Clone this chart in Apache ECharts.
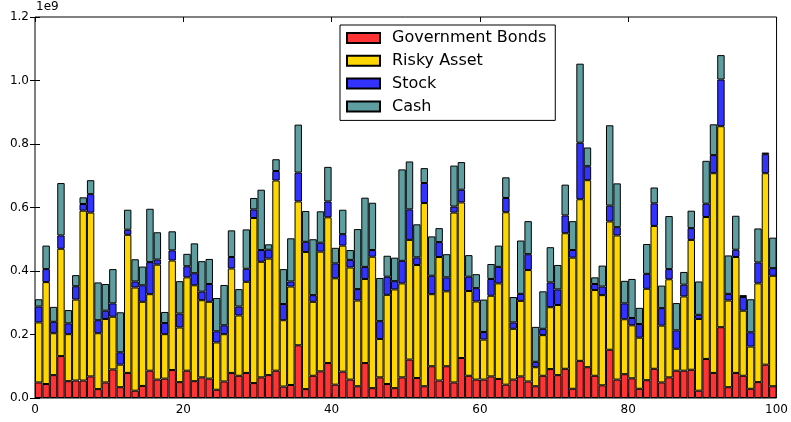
<!DOCTYPE html>
<html>
<head>
<meta charset="utf-8">
<script src="https://cdn.jsdelivr.net/npm/echarts@6/dist/echarts.min.js"></script>
<style>
  html, body { margin: 0; padding: 0; background: #fff; }
  #chart { width: 791px; height: 422px; }
</style>
</head>
<body>
<div id="chart"></div>
<script>
// Portfolio holdings per period, in units of 1e9.
const govBonds = [
  0.049, 0.044, 0.072, 0.132, 0.053, 0.055, 0.055, 0.068, 0.028, 0.049,
  0.090, 0.034, 0.079, 0.023, 0.038, 0.086, 0.058, 0.061, 0.088, 0.050,
  0.086, 0.053, 0.065, 0.061, 0.026, 0.052, 0.079, 0.070, 0.079, 0.047,
  0.065, 0.072, 0.086, 0.036, 0.041, 0.166, 0.028, 0.070, 0.084, 0.110,
  0.042, 0.083, 0.058, 0.037, 0.110, 0.031, 0.065, 0.044, 0.031, 0.065,
  0.121, 0.063, 0.037, 0.100, 0.055, 0.100, 0.049, 0.126, 0.070, 0.058,
  0.058, 0.068, 0.060, 0.042, 0.058, 0.068, 0.052, 0.037, 0.070, 0.091,
  0.072, 0.092, 0.029, 0.117, 0.097, 0.070, 0.040, 0.152, 0.058, 0.075,
  0.062, 0.029, 0.056, 0.092, 0.049, 0.065, 0.086, 0.086, 0.089, 0.023,
  0.123, 0.079, 0.223, 0.034, 0.079, 0.070, 0.029, 0.050, 0.105, 0.037
];
const riskyAsset = [
  0.189, 0.321, 0.132, 0.338, 0.148, 0.255, 0.535, 0.516, 0.176, 0.200,
  0.166, 0.071, 0.435, 0.325, 0.265, 0.241, 0.362, 0.140, 0.345, 0.172,
  0.294, 0.302, 0.243, 0.242, 0.149, 0.149, 0.329, 0.190, 0.287, 0.520,
  0.364, 0.367, 0.599, 0.209, 0.310, 0.453, 0.432, 0.233, 0.377, 0.459,
  0.335, 0.397, 0.353, 0.270, 0.265, 0.414, 0.121, 0.281, 0.311, 0.296,
  0.377, 0.356, 0.577, 0.227, 0.389, 0.236, 0.535, 0.490, 0.267, 0.246,
  0.126, 0.254, 0.301, 0.543, 0.160, 0.238, 0.351, 0.060, 0.128, 0.195,
  0.221, 0.427, 0.413, 0.509, 0.589, 0.270, 0.284, 0.404, 0.454, 0.173,
  0.167, 0.161, 0.288, 0.450, 0.179, 0.309, 0.069, 0.234, 0.409, 0.226,
  0.447, 0.629, 0.633, 0.273, 0.365, 0.205, 0.133, 0.311, 0.603, 0.348
];
const stock = [
  0.050, 0.041, 0.036, 0.042, 0.034, 0.042, 0.021, 0.058, 0.041, 0.026,
  0.042, 0.039, 0.016, 0.019, 0.052, 0.101, 0.016, 0.035, 0.032, 0.044,
  0.035, 0.038, 0.027, 0.056, 0.035, 0.028, 0.036, 0.028, 0.041, 0.027,
  0.037, 0.028, 0.030, 0.051, 0.016, 0.091, 0.032, 0.021, 0.028, 0.050,
  0.047, 0.036, 0.024, 0.036, 0.038, 0.021, 0.056, 0.057, 0.026, 0.071,
  0.096, 0.024, 0.063, 0.058, 0.047, 0.044, 0.019, 0.040, 0.045, 0.042,
  0.024, 0.053, 0.052, 0.045, 0.020, 0.022, 0.050, 0.017, 0.020, 0.078,
  0.049, 0.056, 0.024, 0.178, 0.044, 0.019, 0.027, 0.050, 0.026, 0.050,
  0.023, 0.043, 0.047, 0.071, 0.055, 0.032, 0.058, 0.037, 0.037, 0.013,
  0.042, 0.057, 0.147, 0.021, 0.023, 0.043, 0.045, 0.066, 0.060, 0.024
];
const cash = [
  0.023, 0.074, 0.047, 0.165, 0.042, 0.035, 0.021, 0.044, 0.119, 0.084,
  0.108, 0.126, 0.063, 0.070, 0.059, 0.168, 0.086, 0.035, 0.060, 0.102,
  0.039, 0.094, 0.096, 0.079, 0.105, 0.127, 0.084, 0.055, 0.124, 0.036,
  0.190, 0.017, 0.037, 0.110, 0.136, 0.151, 0.097, 0.176, 0.099, 0.109,
  0.049, 0.077, 0.031, 0.189, 0.218, 0.149, 0.136, 0.066, 0.074, 0.288,
  0.151, 0.104, 0.047, 0.124, 0.044, 0.073, 0.129, 0.087, 0.068, 0.044,
  0.102, 0.047, 0.067, 0.065, 0.080, 0.168, 0.104, 0.110, 0.118, 0.111,
  0.077, 0.097, 0.091, 0.249, 0.059, 0.021, 0.066, 0.253, 0.138, 0.071,
  0.123, 0.051, 0.094, 0.050, 0.071, 0.167, 0.086, 0.040, 0.055, 0.105,
  0.135, 0.097, 0.077, 0.121, 0.107, 0.006, 0.104, 0.107, 0.005, 0.096
];
const periods = govBonds.map((_, i) => String(i));
const xTicks = [0, 20, 40, 60, 80, 100];
const yTicks = [0.0, 0.2, 0.4, 0.6, 0.8, 1.0, 1.2];

const seriesDefs = [
  { name: 'Government Bonds', data: govBonds,   color: '#ff3333' },
  { name: 'Risky Asset',      data: riskyAsset, color: '#ffd700' },
  { name: 'Stock',            data: stock,      color: '#3333ff' },
  { name: 'Cash',             data: cash,       color: '#5f9ea0' }
];

const FONT = 'DejaVu Sans';
const tickLine = { color: '#000', width: 1 };

const chart = echarts.init(document.getElementById('chart'), null, { renderer: 'canvas' });

chart.setOption({
  animation: false,
  backgroundColor: '#fff',
  textStyle: { fontFamily: FONT },
  grid: {
    left: 35, top: 17, width: 742, height: 381,
    show: true, borderColor: '#000', borderWidth: 1, backgroundColor: 'transparent'
  },
  legend: {
    orient: 'vertical',
    left: 340, top: 25,
    padding: [4, 9, 5, 6],
    itemWidth: 33, itemHeight: 10, itemGap: 4.8,
    icon: 'rect',
    borderColor: '#000', borderWidth: 1, borderRadius: 0,
    backgroundColor: '#fff',
    textStyle: { fontFamily: FONT, fontSize: 16, color: '#000', lineHeight: 18, padding: [0, 0, 0, 7] },
    data: seriesDefs.map(s => s.name)
  },
  graphic: [{
    type: 'text', left: 36, top: 1,
    style: { text: '1e9', fontFamily: FONT, fontSize: 12, fill: '#000' }
  }],
  xAxis: [
    {
      type: 'category', data: periods, boundaryGap: true,
      axisLine: { show: false }, axisTick: { show: false }, axisLabel: { show: false }
    },
    {
      type: 'value', position: 'bottom', min: xTicks[0], max: xTicks[xTicks.length - 1], interval: 20,
      axisLine: { show: false }, splitLine: { show: false },
      axisTick: { show: true, inside: true, length: 5, lineStyle: tickLine, customValues: xTicks },
      axisLabel: { fontFamily: FONT, fontSize: 12, color: '#000', margin: 6, customValues: xTicks }
    },
    {
      type: 'value', position: 'top', min: xTicks[0], max: xTicks[xTicks.length - 1], interval: 20,
      axisLine: { show: false }, splitLine: { show: false },
      axisTick: { show: true, inside: true, length: 5, lineStyle: tickLine, customValues: xTicks },
      axisLabel: { show: false }
    }
  ],
  yAxis: [
    {
      type: 'value', min: yTicks[0], max: yTicks[yTicks.length - 1], interval: 0.2,
      axisLine: { show: false }, splitLine: { show: false },
      axisTick: { show: true, inside: true, length: 5, lineStyle: tickLine, customValues: yTicks },
      axisLabel: {
        fontFamily: FONT, fontSize: 12, color: '#000', margin: 6,
        showMaxLabel: true, customValues: yTicks,
        formatter: v => v.toFixed(1)
      }
    },
    {
      type: 'value', position: 'right', min: yTicks[0], max: yTicks[yTicks.length - 1], interval: 0.2,
      axisLine: { show: false }, splitLine: { show: false },
      axisTick: { show: true, inside: true, length: 5, lineStyle: tickLine, customValues: yTicks },
      axisLabel: { show: false }
    }
  ],
  series: seriesDefs.map(s => ({
    name: s.name,
    type: 'bar',
    stack: 'total',
    xAxisIndex: 0,
    yAxisIndex: 0,
    barWidth: '100%',
    barCategoryGap: 0,
    data: s.data,
    itemStyle: { color: s.color, borderColor: '#000', borderWidth: 1 }
  }))
});
</script>
</body>
</html>
